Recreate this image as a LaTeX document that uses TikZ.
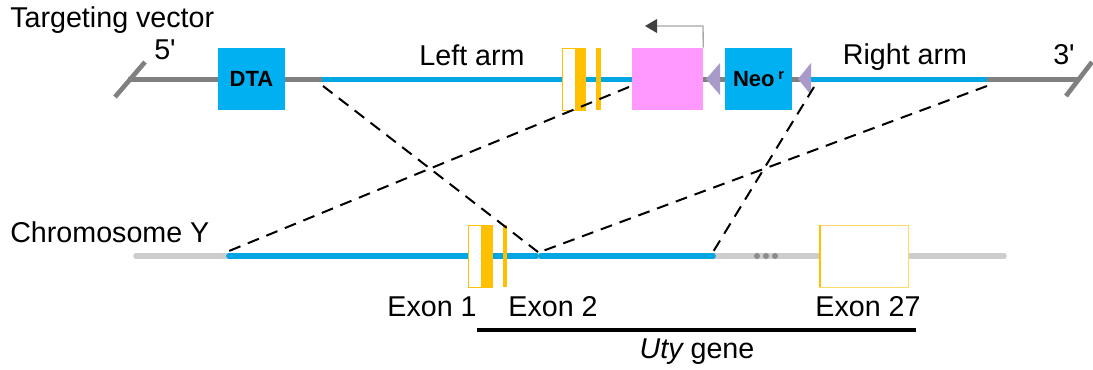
\documentclass[tikz,border=0pt]{standalone}
\usepackage{fontspec}
\setmainfont{Liberation Sans}
\usetikzlibrary{arrows.meta}
\definecolor{boxcyan}{HTML}{00B0F0}
\definecolor{armblue}{HTML}{00A6E2}
\definecolor{vecgray}{HTML}{808080}
\definecolor{chrgray}{HTML}{CDCDCD}
\definecolor{exonyellow}{HTML}{FFC000}
\definecolor{promoter}{HTML}{FF99FF}
\definecolor{loxp}{HTML}{A99BC9}
\tikzset{
  label text/.style={font=\fontsize{21.5}{25}\selectfont, inner sep=0pt},
  cassette/.style={fill=boxcyan, draw=none, minimum height=46.5pt, inner sep=0pt,
                   font=\bfseries\fontsize{16.5}{18}\selectfont},
  vecline/.style={line width=3.75pt, vecgray},
  armline/.style={line width=3.75pt, armblue},
  chrline/.style={line width=4.2pt, chrgray, line cap=round},
  chrarm/.style={line width=4.2pt, armblue, line cap=round},
  homology/.style={dashed, dash pattern=on 9pt off 6pt, line width=1.5pt, black},
  site/.style={fill=loxp, draw=none},
}
\begin{document}
\begin{tikzpicture}[x=0.75pt, y=-0.75pt]
\useasboundingbox (0,0) rectangle (1093,369);

% ---------- targeting vector ----------
\node[label text, anchor=west] (tvlabel) at (10,20) {Targeting vector};

% backbone and homology arms
\draw[vecline] (128,79) -- (322,79);
\draw[armline] (322,79) -- (632,79);
\draw[vecline] (703,79) -- (810,79);
\draw[armline] (810,79) -- (987,79);
\draw[vecline] (987,79) -- (1080,79);
% cut ends
\draw[line width=3.5pt, vecgray] (115,97) -- (145,62);
\draw[line width=3.5pt, vecgray] (1066,96) -- (1092,62);

\node[label text] (five) at (165,50) {5\textquotesingle};
\node[label text] (three) at (1064,55) {3\textquotesingle};
\node[label text] (leftarm) at (472,55) {Left arm};
\node[label text] (rightarm) at (905,57) {Right arm};

% DTA cassette
\node[cassette, minimum width=50.25pt] (dta) at (251.5,79) {DTA};

% exons 1 and 2 within the left arm
\fill[white] (562,48) rectangle (585,110);
\draw[exonyellow, line width=0.6pt] (562,48) rectangle (585,110);
\fill[exonyellow] (575,48) rectangle (585,110);
\fill[exonyellow] (596,48) rectangle (601,110);

% promoter and neomycin cassette
\node[fill=promoter, minimum width=53.25pt, minimum height=46.5pt, inner sep=0pt] (prom) at (667.5,79) {};
\node[cassette, minimum width=50.25pt] (neo) at (758.5,79) {Neo\,\raisebox{0.6ex}{\fontsize{11}{12}\selectfont r}};
\coordinate (turn) at (703,26);
\coordinate (tss) at (655,26);
\draw[line width=1pt, black!35] (prom.north east) -- (turn) -- (tss);
\fill[black!75] (tss) ++(-10,0) -- ++(12,-7) -- ++(0,14) -- cycle;

% recombination sites
\fill[site] (706,79) -- (720,63) -- (720,95) -- cycle;
\fill[site] (798,79) -- (811,63) -- (811,95) -- cycle;

% ---------- chromosome ----------
\node[label text, anchor=west] (chrlabel) at (10,232) {Chromosome Y};

\draw[chrline] (136,256) -- (1004,256);
\draw[chrarm] (229,256) -- (536,256);
\draw[chrarm] (541,256) -- (713,256);
\foreach \dx in {757,766,775} \fill[black!45] (\dx,256) circle (3);

% exons
\fill[white] (468,225) rectangle (492,287);
\draw[exonyellow, line width=0.6pt] (468,225) rectangle (492,287);
\fill[exonyellow] (481,225) rectangle (492,287);
\fill[exonyellow] (503,225) rectangle (507,287);
\node[fill=white, draw=exonyellow!60, line width=0.6pt, minimum width=66.75pt, minimum height=46.5pt, inner sep=0pt] (ex27) at (863.5,256) {};
\fill[exonyellow] (ex27.north west) rectangle ++(2.5,62);

\node[label text] (ex1) at (432,307) {Exon 1};
\node[label text] (ex2) at (553,307) {Exon 2};
\node[label text] (ex27lab) at (868,307) {Exon 27};

\draw[line width=3pt, black] (477,330) -- (916,330);
\node[label text] (gene) at (697,352) {\itshape Uty\upshape{} gene};

% ---------- homologous recombination ----------
\coordinate (la0) at (323,86);
\coordinate (la1) at (629,87);
\coordinate (ra0) at (814,87);
\coordinate (ra1) at (987,86);
\coordinate (cla0) at (229,251);
\coordinate (cla1) at (538,252);
\coordinate (cra0) at (540,252);
\coordinate (cra1) at (713,252);
\draw[homology] (la0) -- (cla1);
\draw[homology] (la1) -- (cla0);
\draw[homology] (ra0) -- (cra1);
\draw[homology] (ra1) -- (cra0);
\end{tikzpicture}
\end{document}
